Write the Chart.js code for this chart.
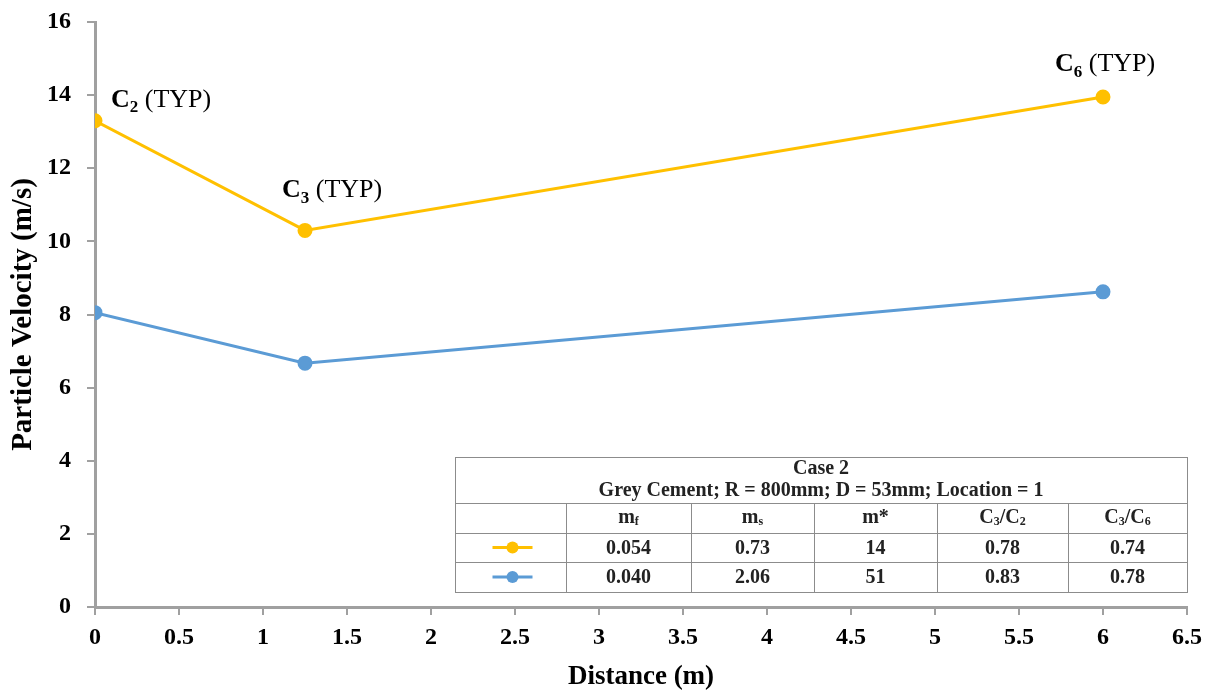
<!DOCTYPE html>
<html>
<head>
<meta charset="utf-8">
<script src="https://cdn.jsdelivr.net/npm/chart.js@4.4.0/dist/chart.umd.min.js"></script>
<style>
    html, body { margin: 0; padding: 0; background: #fff; }
    #wrap { width: 1215px; height: 695px; position: relative; }
</style>
</head>
<body>
<div id="wrap"><canvas id="grafico"></canvas></div>
<script>
// Datos de la figura
const distancias = [0, 1.25, 6];
const velocidadSerie1 = [13.3, 10.3, 13.95];
const velocidadSerie2 = [8.05, 6.67, 8.62];
const etiquetasPuntos = [['C', '2'], ['C', '3'], ['C', '6']];
const tituloTabla = ['Case 2', 'Grey Cement; R = 800mm; D = 53mm; Location = 1'];
// cabeceras: cada trozo es [texto, esSubindice]
const cabecerasTabla = [
    [['m', false], ['f', true]],
    [['m', false], ['s', true]],
    [['m*', false]],
    [['C', false], ['3', true], ['/C', false], ['2', true]],
    [['C', false], ['3', true], ['/C', false], ['6', true]]
];
const filaSerie1 = ['0.054', '0.73', '14', '0.78', '0.74'];
const filaSerie2 = ['0.040', '2.06', '51', '0.83', '0.78'];
const ticksX = [0, 0.5, 1, 1.5, 2, 2.5, 3, 3.5, 4, 4.5, 5, 5.5, 6, 6.5];
const ticksY = [0, 2, 4, 6, 8, 10, 12, 14, 16];

const SERIF = '"Liberation Serif", "Times New Roman", serif';
const AMARILLO = '#FFC000';
const AZUL = '#5B9BD5';
const GRIS = '#A0A0A0';

// Escribe una secuencia de trozos con subindices, alineada a la izquierda
function textoConSub(ctx, trozos, x, y, tam, tamSub, peso) {
    let cx = x;
    trozos.forEach(([t, sub, pesoPropio]) => {
        const p = pesoPropio || peso;
        ctx.font = p + ' ' + (sub ? tamSub : tam) + 'px ' + SERIF;
        ctx.fillText(t, cx, sub ? y + tam * 0.22 : y);
        cx += ctx.measureText(t).width;
    });
    return cx - x;
}

function anchoTrozos(ctx, trozos, tam, tamSub, peso) {
    let w = 0;
    trozos.forEach(([t, sub]) => {
        ctx.font = peso + ' ' + (sub ? tamSub : tam) + 'px ' + SERIF;
        w += ctx.measureText(t).width;
    });
    return w;
}

// Etiquetas "Cn (TYP)" junto a los puntos de la serie amarilla
const etiquetasPlugin = {
    id: 'etiquetas',
    afterDatasetsDraw(chart, args, opts) {
        const ctx = chart.ctx;
        const meta = chart.getDatasetMeta(0);
        ctx.save();
        ctx.fillStyle = '#000';
        ctx.textBaseline = 'alphabetic';
        ctx.textAlign = 'left';
        etiquetasPuntos.forEach(([letra, num], i) => {
            const pt = meta.data[i];
            const [dx, dy] = opts.desplazamientos[i];
            textoConSub(ctx, [[letra, false, 'bold'], [num, true, 'bold'], [' (TYP)', false, 'normal']],
                pt.x + dx, pt.y + dy, 26, 17, 'normal');
        });
        ctx.restore();
    }
};

// Tabla de resultados dibujada sobre el area del grafico
const tablaPlugin = {
    id: 'tabla',
    afterDraw(chart, args, opts) {
        const ctx = chart.ctx;
        const cols = opts.columnas;
        const filas = opts.filas;
        const izq = cols[0], der = cols[cols.length - 1];
        const arriba = filas[0], abajo = filas[filas.length - 1];
        ctx.save();
        ctx.fillStyle = '#fff';
        ctx.fillRect(izq, arriba, der - izq, abajo - arriba);
        ctx.strokeStyle = '#8c8c8c';
        ctx.lineWidth = 1;
        ctx.strokeRect(izq + 0.5, arriba + 0.5, der - izq, abajo - arriba);
        ctx.beginPath();
        for (let i = 1; i < filas.length - 1; i++) {
            ctx.moveTo(izq, filas[i] + 0.5);
            ctx.lineTo(der, filas[i] + 0.5);
        }
        for (let j = 1; j < cols.length - 1; j++) {
            ctx.moveTo(cols[j] + 0.5, filas[1]);
            ctx.lineTo(cols[j] + 0.5, abajo);
        }
        ctx.stroke();

        const tam = 20;
        ctx.fillStyle = '#222';
        ctx.textAlign = 'center';
        ctx.textBaseline = 'middle';
        ctx.font = 'bold ' + tam + 'px ' + SERIF;
        const cx = (izq + der) / 2;
        ctx.fillText(tituloTabla[0], cx, arriba + 12);
        ctx.fillText(tituloTabla[1], cx, arriba + 34);

        // cabeceras con subindices
        ctx.textAlign = 'left';
        cabecerasTabla.forEach((trozos, j) => {
            const w = anchoTrozos(ctx, trozos, tam, 12, 'bold');
            const centro = (cols[j + 1] + cols[j + 2]) / 2;
            textoConSub(ctx, trozos, centro - w / 2, (filas[1] + filas[2]) / 2, tam, 12, 'bold');
        });

        // filas de valores con su marcador de serie
        ctx.textAlign = 'center';
        ctx.font = 'bold ' + tam + 'px ' + SERIF;
        [filaSerie1, filaSerie2].forEach((fila, i) => {
            const y = (filas[i + 2] + filas[i + 3]) / 2;
            const color = chart.data.datasets[i].borderColor;
            const mx = (cols[0] + cols[1]) / 2 + 2;
            ctx.strokeStyle = color;
            ctx.lineWidth = 3;
            ctx.beginPath();
            ctx.moveTo(mx - 20, y);
            ctx.lineTo(mx + 20, y);
            ctx.stroke();
            ctx.fillStyle = color;
            ctx.beginPath();
            ctx.arc(mx, y, 6, 0, Math.PI * 2);
            ctx.fill();
            ctx.fillStyle = '#222';
            fila.forEach((v, j) => {
                ctx.fillText(v, (cols[j + 1] + cols[j + 2]) / 2, y + 1);
            });
        });
        ctx.restore();
    }
};

const ctx = document.getElementById('grafico').getContext('2d');
const grafico = new Chart(ctx, {
    type: 'line',
    data: {
        datasets: [{
            label: 'Serie 1',
            data: distancias.map((d, i) => ({ x: d, y: velocidadSerie1[i] })),
            borderColor: AMARILLO,
            backgroundColor: AMARILLO,
            borderWidth: 3,
            pointRadius: 6,
            pointHoverRadius: 6,
            tension: 0
        }, {
            label: 'Serie 2',
            data: distancias.map((d, i) => ({ x: d, y: velocidadSerie2[i] })),
            borderColor: AZUL,
            backgroundColor: AZUL,
            borderWidth: 3,
            pointRadius: 6,
            pointHoverRadius: 6,
            tension: 0
        }]
    },
    options: {
        responsive: true,
        maintainAspectRatio: false,
        animation: false,
        layout: { padding: { top: 22, right: 28, left: 0, bottom: 0 } },
        plugins: {
            legend: { display: false },
            tooltip: { enabled: false },
            etiquetas: { desplazamientos: [[16, -14], [-23, -33], [-48, -26]] },
            tabla: { columnas: [455, 566, 691, 814, 937, 1068, 1187], filas: [457, 503, 533, 562, 592] }
        },
        scales: {
            x: {
                type: 'linear',
                min: 0,
                max: 6.5,
                afterBuildTicks: s => { s.ticks = ticksX.map(v => ({ value: v })); },
                afterFit: s => { s.height = 88; },
                grid: { drawOnChartArea: false, color: GRIS, lineWidth: 2, tickLength: 8 },
                border: { color: GRIS, width: 3 },
                ticks: {
                    color: '#000',
                    padding: 8,
                    maxRotation: 0,
                    callback: v => String(v),
                    font: { family: SERIF, size: 24, weight: 'bold' }
                },
                title: {
                    display: true,
                    text: 'Distance (m)',
                    color: '#000',
                    padding: { top: 0, bottom: 2 },
                    font: { family: SERIF, size: 27, weight: 'bold' }
                }
            },
            y: {
                min: 0,
                max: 16,
                afterBuildTicks: s => { s.ticks = ticksY.map(v => ({ value: v })); },
                afterFit: s => {
                    s.width = 95;
                    // sin margen extra arriba y abajo: el area la fija el padding del layout
                    s.paddingTop = 0;
                    s.paddingBottom = 0;
                },
                grid: { drawOnChartArea: false, color: GRIS, lineWidth: 2, tickLength: 8 },
                border: { color: GRIS, width: 3 },
                ticks: {
                    color: '#000',
                    padding: 16,
                    callback: v => String(v),
                    font: { family: SERIF, size: 24, weight: 'bold' }
                },
                title: {
                    display: true,
                    text: 'Particle Velocity (m/s)',
                    color: '#000',
                    padding: { top: 6, bottom: 0 },
                    font: { family: SERIF, size: 29, weight: 'bold' }
                }
            }
        }
    },
    plugins: [etiquetasPlugin, tablaPlugin]
});
</script>
</body>
</html>
